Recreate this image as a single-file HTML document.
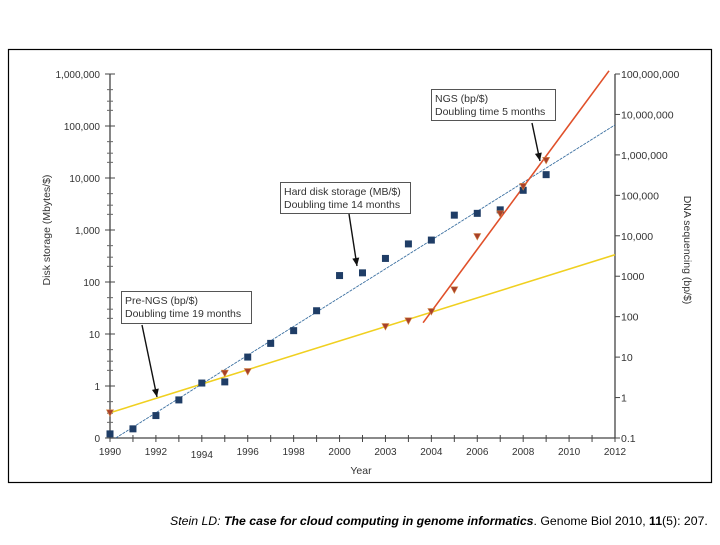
<!DOCTYPE html>
<html><head><meta charset="utf-8"><style>
body{margin:0;background:#fff;width:720px;height:540px;overflow:hidden;font-family:"Liberation Sans",sans-serif}
svg text{font-family:"Liberation Sans",sans-serif}
</style></head><body>
<svg id="chart" width="720" height="540" xmlns="http://www.w3.org/2000/svg">
<rect x="8.5" y="49.5" width="703" height="433" fill="#fff" stroke="#000" stroke-width="1.2"/>
<g id="axes"></g>
<g id="marks"></g>
<g id="notes"></g>
<text x="170" y="525" font-size="12.3" font-style="italic" fill="#000">Stein LD: <tspan font-weight="bold">The case for cloud computing in genome informatics</tspan><tspan font-style="normal">. Genome Biol 2010, </tspan><tspan font-weight="bold" font-style="normal">11</tspan><tspan font-style="normal">(5): 207.</tspan></text>
</svg>
<script>
const diskYears=[1990,1991,1992,1993,1994,1995,1996,1997,1998,1999,2000,2001,2002,2003,2004,2005,2006,2007,2008,2009];
const diskValues=[0.12,0.15,0.27,0.54,1.14,1.2,3.6,6.6,11.6,28,133,150,284,540,640,1930,2090,2440,5800,11600];
const seqYears=[1990,1995,1996,2002,2003,2004,2005,2006,2007,2008,2009];
const seqValues=[0.42,4.0,4.4,57,79,134,460,9600,35000,166000,730000];
const diskFitYears=[1990.25,2012];
const diskFitValues=[0.1,105000];
const preNgsFitYears=[1990,2012];
const preNgsFitValues=[0.42,3400];
const ngsFitYears=[2003.64,2011.74];
const ngsFitValues=[71,120000000];
const xTickYears=[1990,1991,1992,1993,1994,1995,1996,1997,1998,1999,2000,2001,2002,2003,2004,2005,2006,2007,2008,2009,2010,2011,2012];
const xLabelYears=[1990,1992,1994,1996,1998,2000,2002,2004,2006,2008,2010,2012];
const xLabelTexts=["1990","1992","1994","1996","1998","2000","2003","2004","2006","2008","2010","2012"];
const leftTicks=[0.1,1,10,100,1000,10000,100000,1000000];
const leftLabels=["0","1","10","100","1,000","10,000","100,000","1,000,000"];
const rightTicks=[0.1,1,10,100,1000,10000,100000,1000000,10000000,100000000];
const rightLabels=["0.1","1","10","100","1000","10,000","100,000","1,000,000","10,000,000","100,000,000"];

const X0=110,X1=615,Y0=438,LTOP=74,RTOP=74;
const xs=y=>X0+(y-1990)/(2012-1990)*(X1-X0);
const yL=v=>Y0-(Math.log10(v)+1)/7*(Y0-LTOP);
const yR=v=>Y0-(Math.log10(v)+1)/9*(Y0-RTOP);
const NS="http://www.w3.org/2000/svg";
function mk(tag,attrs,parent,text){const e=document.createElementNS(NS,tag);for(const k in attrs)e.setAttribute(k,attrs[k]);if(text!==undefined)e.textContent=text;parent.appendChild(e);return e;}
const axes=document.getElementById('axes'),marks=document.getElementById('marks'),notes=document.getElementById('notes');

let e;
e=mk('line',{x1:X0,y1:LTOP,x2:X0,y2:Y0,stroke:'#444','stroke-width':1.3},axes);


e=mk('line',{x1:X0,y1:Y0,x2:X1,y2:Y0,stroke:'#444','stroke-width':1.3},axes);


e=mk('line',{x1:X1,y1:RTOP,x2:X1,y2:Y0,stroke:'#444','stroke-width':1.3},axes);



xTickYears.forEach(y=>{e=mk('line',{x1:xs(y),y1:Y0-3,x2:xs(y),y2:Y0+4,stroke:'#444'},axes);

});
xLabelYears.forEach((y,i)=>{e=mk('text',{x:xs(y),y:Y0+17+(y===1994?3:0),'font-size':10,fill:'#333','text-anchor':'middle'},axes,xLabelTexts[i]);

});
leftTicks.forEach((v,i)=>{const yy=yL(v);
e=mk('line',{x1:X0-5,y1:yy,x2:X0+5,y2:yy,stroke:'#444'},axes);


if(i<leftTicks.length-1){[2,3,5].forEach(m=>{const ym=yL(v*m);mk('line',{x1:X0-3,y1:ym,x2:X0+3,y2:ym,stroke:'#666'},axes);});}
e=mk('text',{x:X0-10,y:yy+4,'font-size':10,fill:'#333','text-anchor':'end'},axes,leftLabels[i]);

});
rightTicks.forEach((v,i)=>{const yy=yR(v);
e=mk('line',{x1:X1,y1:yy,x2:X1+5,y2:yy,stroke:'#444'},axes);


e=mk('text',{x:X1+6,y:yy+4,'font-size':10.5,fill:'#333'},axes,rightLabels[i]);

});
e=mk('text',{x:0,y:0,'font-size':10.5,fill:'#333','text-anchor':'middle',transform:'translate(50,230) rotate(-90)'},axes,'Disk storage (Mbytes/$)');


e=mk('text',{x:0,y:0,'font-size':10.5,fill:'#333','text-anchor':'middle',transform:'translate(684,250) rotate(90)'},axes,'DNA sequencing (bp/$)');


e=mk('text',{x:361,y:474,'font-size':10.5,fill:'#333','text-anchor':'middle'},axes,'Year');



e=mk('line',{x1:xs(diskFitYears[0]),y1:yL(diskFitValues[0]),x2:xs(diskFitYears[1]),y2:yL(diskFitValues[1]),stroke:'#3a6fa0','stroke-width':0.9,'stroke-dasharray':'3,1'},marks);


e=mk('line',{x1:xs(preNgsFitYears[0]),y1:yR(preNgsFitValues[0]),x2:xs(preNgsFitYears[1]),y2:yR(preNgsFitValues[1]),stroke:'#f0d020','stroke-width':1.6},marks);


e=mk('line',{x1:xs(ngsFitYears[0]),y1:yR(ngsFitValues[0]),x2:xs(ngsFitYears[1]),y2:yR(ngsFitValues[1]),stroke:'#e0502a','stroke-width':1.6},marks);



diskYears.forEach((y,i)=>{const cx=xs(y),cy=yL(diskValues[i]);
e=mk('rect',{x:cx-3.5,y:cy-3.5,width:7,height:7,fill:'#1f3d66'},marks);

});
seqYears.forEach((y,i)=>{const cx=xs(y),cy=yR(seqValues[i]);
e=mk('polygon',{points:`${cx-3.5},${cy-3} ${cx+3.5},${cy-3} ${cx},${cy+3.5}`,fill:'#a8402a',stroke:'#d08040','stroke-width':0.6},marks);

});

function note(name,x,y,w,h,l1,l2,ax1,ay1,ax2,ay2){
 const g=mk('g',{},notes);
 
 
 mk('rect',{x:x+0.5,y:y+0.5,width:w,height:h,fill:'#fff',stroke:'#555','stroke-width':1},g);
 mk('text',{x:x+4,y:y+13,'font-size':10.5,fill:'#333'},g,l1);
 mk('text',{x:x+4,y:y+26,'font-size':10.5,fill:'#333'},g,l2);
 mk('line',{x1:ax1,y1:ay1,x2:ax2,y2:ay2,stroke:'#111','stroke-width':1.4},g);
 const a=Math.atan2(ay2-ay1,ax2-ax1),L=8,W=3.5;
 const bx=ax2-L*Math.cos(a),by=ay2-L*Math.sin(a);
 mk('polygon',{points:`${ax2},${ay2} ${bx+W*Math.sin(a)},${by-W*Math.cos(a)} ${bx-W*Math.sin(a)},${by+W*Math.cos(a)}`,fill:'#111'},g);
}
note('ngs-annotation',431,89,124,31,'NGS (bp/$)','Doubling time 5 months',532,123,540,161);
note('hard-disk-annotation',280,182,130,31,'Hard disk storage (MB/$)','Doubling time 14 months',349,214,357,266);
note('pre-ngs-annotation',121,291,130,32,'Pre-NGS (bp/$)','Doubling time 19 months',142,325,157,397);
</script>
</body></html>
